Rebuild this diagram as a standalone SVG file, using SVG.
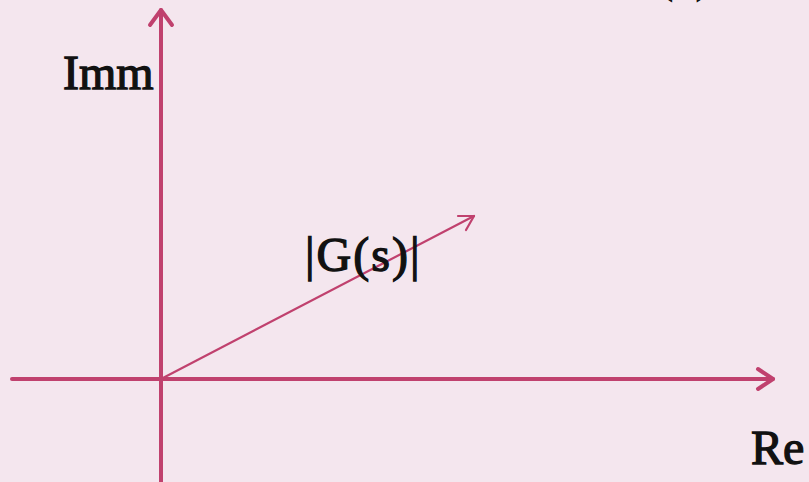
<svg xmlns="http://www.w3.org/2000/svg" width="809" height="482" viewBox="0 0 809 482">
<style>
.ax{stroke:#c0416e;stroke-width:4;fill:none;stroke-linecap:round;stroke-linejoin:round}
.vec{stroke:#c0416e;stroke-width:2.2;fill:none;stroke-linecap:round;stroke-linejoin:round}
.t{font-family:"Liberation Serif","Times New Roman",serif;font-size:48px;fill:#111;stroke:#111;stroke-width:1.3}
</style>
<rect width="809" height="482" fill="#f4e6ee"/>
<g id="connectors">
<line class="ax" x1="161" y1="482" x2="161" y2="10"/>
<polyline class="ax" points="150,25 161,10 172,25"/>
<line class="ax" x1="12" y1="379" x2="773" y2="379"/>
<polyline class="ax" points="758,369 773,379 758,389"/>
<line class="vec" x1="161" y1="379" x2="474" y2="216"/>
<polyline class="vec" points="458,216 474,216 466,230"/>
</g>
<g id="label-imm"><text class="t" x="63" y="89">Imm</text></g>
<g id="label-re"><text class="t" x="751" y="464">Re</text></g>
<g id="label-g"><text class="t" x="305" y="271" font-size="50" letter-spacing="2">|G(s)|</text></g>
<g id="label-top"><text class="t" x="657" y="-9" letter-spacing="2">(s)</text></g>
</svg>
